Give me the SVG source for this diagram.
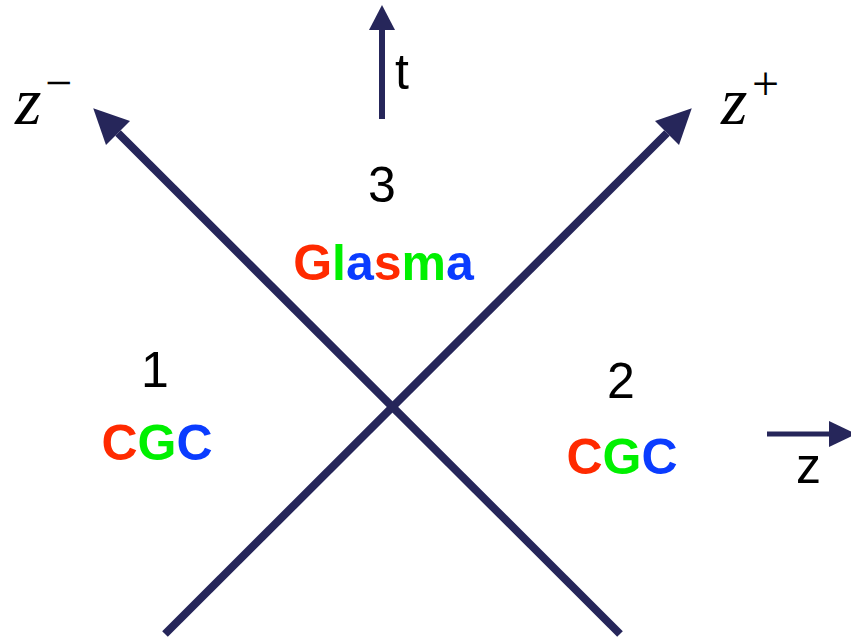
<svg xmlns="http://www.w3.org/2000/svg" width="851" height="640" viewBox="0 0 851 640">
<style>
.ax{stroke:#26265a;fill:none;stroke-linecap:butt}
.hd{fill:#26265a}
.num{font-family:"Liberation Sans",Arial,sans-serif;font-size:50px;fill:#000;text-anchor:middle}
.lbl{font-family:"Liberation Sans",Arial,sans-serif;font-size:50px;font-weight:bold;text-anchor:middle}
.r{fill:#ff2a00}.g{fill:#00f000}.b{fill:#0a3cff}
.mz{font-family:"Liberation Serif","Times New Roman",serif;font-style:italic;font-size:68px;fill:#000}
.sup{font-family:"Liberation Serif","Times New Roman",serif;font-size:48px;fill:#000}
</style>
<defs>
<marker id="head" markerUnits="userSpaceOnUse" markerWidth="40" markerHeight="40" refX="0" refY="17" orient="auto" viewBox="0 0 40 40" overflow="visible">
<path d="M0,0 L35,17 L0,34 z" class="hd"/>
</marker>
</defs>
<rect width="851" height="640" fill="#fff"/>
<g id="connectors">
<line class="ax" x1="165" y1="634" x2="667" y2="133" stroke-width="8" marker-end="url(#head)"/>
<line class="ax" x1="620" y1="634" x2="118" y2="133" stroke-width="8" marker-end="url(#head)"/>
<line class="ax" x1="382" y1="119" x2="382" y2="29" stroke-width="6"/>
<polygon class="hd" points="369,30 395,30 382,5"/>
<line class="ax" x1="767" y1="434" x2="830" y2="434" stroke-width="5"/>
<polygon class="hd" points="829,421 829,447 856,434"/>
</g>
<g id="axis-t"><text x="395" y="89" style="font-family:'Liberation Sans',Arial,sans-serif;font-size:50px">t</text></g>
<g id="axis-z"><text x="796" y="483" style="font-family:'Liberation Sans',Arial,sans-serif;font-size:50px">z</text></g>
<g id="axis-zminus"><text class="mz" x="15" y="124">z</text><text class="sup" x="45" y="99">−</text></g>
<g id="axis-zplus"><text class="mz" x="721" y="124">z</text><text class="sup" x="752" y="100">+</text></g>
<g id="region-3"><text class="num" x="382" y="202">3</text>
<text class="lbl" x="383.5" y="280"><tspan class="r">G</tspan><tspan class="g">l</tspan><tspan class="b">a</tspan><tspan class="r">s</tspan><tspan class="g">m</tspan><tspan class="b">a</tspan></text></g>
<g id="region-1"><text class="num" x="155" y="387">1</text>
<text class="lbl" x="157" y="460"><tspan class="r">C</tspan><tspan class="g">G</tspan><tspan class="b">C</tspan></text></g>
<g id="region-2"><text class="num" x="621" y="398">2</text>
<text class="lbl" x="622" y="474"><tspan class="r">C</tspan><tspan class="g">G</tspan><tspan class="b">C</tspan></text></g>
</svg>
